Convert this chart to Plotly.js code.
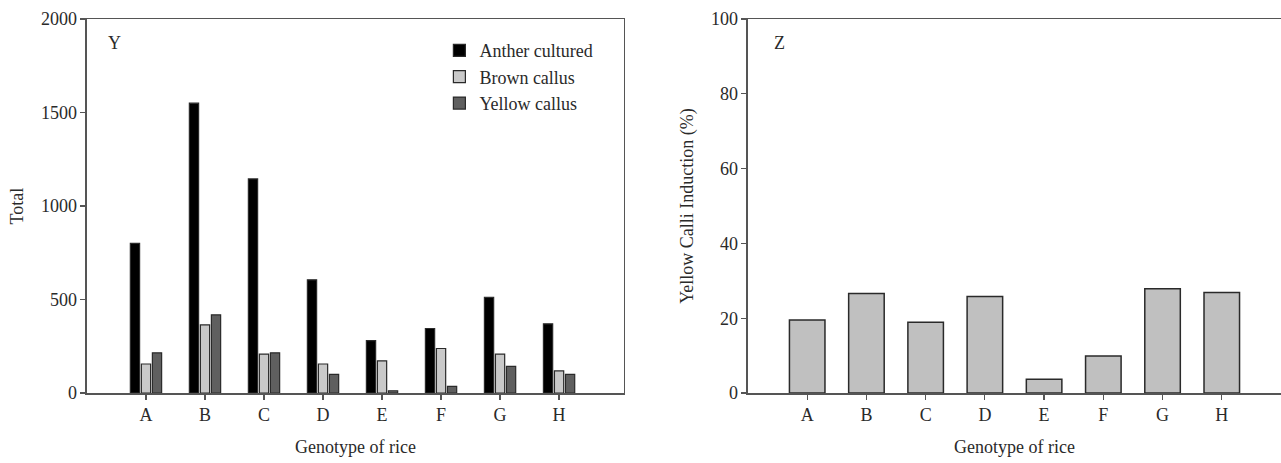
<!DOCTYPE html>
<html>
<head>
<meta charset="utf-8">
<script src="https://cdn.plot.ly/plotly-3.0.1.min.js"></script>
<style>html,body{margin:0;padding:0;background:#fff;}#chart{width:1281px;height:463px;}</style>
</head>
<body>
<div id="chart"></div>
<script>
var categories = ["A", "B", "C", "D", "E", "F", "G", "H"];
var antherCultured = [800, 1550, 1145, 605, 280, 345, 512, 370];
var brownCallus = [155, 364, 208, 155, 172, 238, 208, 118];
var yellowCallus = [215, 418, 215, 100, 12, 35, 142, 100];
var yellowCalliInduction = [19.5, 26.6, 18.9, 25.8, 3.7, 9.9, 27.9, 26.9];
var seriesNames = ["Anther cultured", "Brown callus", "Yellow callus"];
var leftTicks = [0, 500, 1000, 1500, 2000];
var rightTicks = [0, 20, 40, 60, 80, 100];

var font = "Liberation Serif";
var outline = {color: "#2a2a2a", width: 1.2};

var traces = [
  {type: "bar", name: seriesNames[0], x: categories, y: antherCultured, xaxis: "x", yaxis: "y",
   marker: {color: "#000000", line: outline}},
  {type: "bar", name: seriesNames[1], x: categories, y: brownCallus, xaxis: "x", yaxis: "y",
   marker: {color: "#c9c9c9", line: outline}},
  {type: "bar", name: seriesNames[2], x: categories, y: yellowCallus, xaxis: "x", yaxis: "y",
   marker: {color: "#5f5f5f", line: outline}},
  {type: "bar", name: "Yellow Calli Induction", x: categories, y: yellowCalliInduction, xaxis: "x2", yaxis: "y2",
   marker: {color: "#c0c0c0", line: {color: "#2a2a2a", width: 1.5}}, width: 0.6, showlegend: false}
];

var axisLine = "#555555";
var txt = "#2a2a2a";
var common = {
  showline: true, linecolor: axisLine, linewidth: 1.5, showgrid: false, zeroline: false,
  ticks: "outside", ticklen: 5, tickcolor: axisLine, tickwidth: 1.2,
  tickfont: {family: font, size: 18, color: txt}
};
var titleFont = {family: font, size: 18, color: txt};

var layout = {
  width: 1281, height: 463,
  margin: {l: 0, r: 0, t: 19, b: 70},
  paper_bgcolor: "#fff", plot_bgcolor: "#fff",
  font: {family: font, color: txt},
  barmode: "group", bargap: 0.44, bargroupgap: 0.16,
  showlegend: true,
  legend: {x: 0.343, y: 0.965, xanchor: "left", yanchor: "top", bgcolor: "rgba(0,0,0,0)",
           font: {family: font, size: 18, color: txt}, tracegroupgap: 0},
  xaxis: Object.assign({}, common, {domain: [0.0679, 0.4871], range: [-1, 8.1], mirror: true,
    title: {text: "Genotype of rice", font: titleFont, standoff: 16}}),
  yaxis: Object.assign({}, common, {domain: [0, 1], range: [0, 2000], tickvals: leftTicks, mirror: true,
    title: {text: "Total", font: titleFont, standoff: 12}}),
  xaxis2: Object.assign({}, common, {domain: [0.5839, 1.0], range: [-1, 8], mirror: true, anchor: "y2",
    title: {text: "Genotype of rice", font: titleFont, standoff: 16}}),
  yaxis2: Object.assign({}, common, {domain: [0, 1], range: [0, 100], tickvals: rightTicks, anchor: "x2",
    title: {text: "Yellow Calli Induction (%)", font: titleFont, standoff: 12}}),
  annotations: [
    {text: "Y", xref: "x domain", yref: "y domain", x: 0.035, y: 0.935, showarrow: false,
     xanchor: "left", yanchor: "middle", font: {family: font, size: 18, color: txt}},
    {text: "Z", xref: "x2 domain", yref: "y2 domain", x: 0.045, y: 0.935, showarrow: false,
     xanchor: "left", yanchor: "middle", font: {family: font, size: 18, color: txt}}
  ]
};

Plotly.newPlot("chart", traces, layout, {staticPlot: true, displayModeBar: false});
</script>
</body>
</html>
